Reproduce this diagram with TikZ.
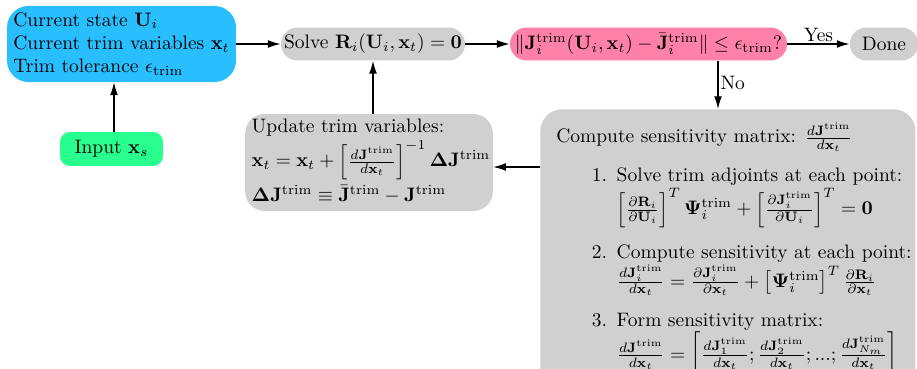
\documentclass[tikz,border=0pt]{standalone}
\usepackage{amsmath,amssymb,bm}
\usetikzlibrary{arrows.meta,calc}
\definecolor{cblue}{RGB}{41,191,255}
\definecolor{cgreen}{RGB}{41,255,143}
\definecolor{cpink}{RGB}{255,128,168}
\definecolor{cgray}{RGB}{208,208,208}
\newcommand{\tr}{\mathrm{trim}}
\tikzset{
  px/.style={x=0.5128pt,y=-0.5128pt},
  boxbase/.style={inner sep=0pt, text=black},
  pill/.style={boxbase, fill=cgray, rounded corners=8.4pt, minimum height=16.9pt},
  conn/.style={-{Latex[length=6.5pt,width=4pt]}, line width=0.6pt},
  lbl/.style={font=\normalsize, inner sep=1pt}
}
\begin{document}
\begin{tikzpicture}[px]
\useasboundingbox (0,0) rectangle (917,368);
\node[boxbase, fill=cblue, rounded corners=11pt, minimum width=117.4pt, minimum height=39pt, align=left] (state) at (121.5,44)
  {Current state $\mathbf{U}_i$\\Current trim variables $\mathbf{x}_t$\\Trim tolerance $\epsilon_{\tr}$};
\node[pill, minimum width=94.4pt] (solve) at (373,44) {Solve $\mathbf{R}_i(\mathbf{U}_i,\mathbf{x}_t)=\mathbf{0}$};
\node[pill, fill=cpink, minimum width=142pt] (check) at (648.5,44)
  {$\|\mathbf{J}_i^{\tr}(\mathbf{U}_i,\mathbf{x}_t)-\bar{\mathbf{J}}_i^{\tr}\|\le\epsilon_{\tr}$?};
\node[pill, minimum width=35pt] (done) at (884,44) {Done};
\node[boxbase, fill=cgreen, rounded corners=5pt, minimum width=52.8pt, minimum height=17.4pt] (input) at (111.5,149) {Input $\mathbf{x}_s$};
\node[boxbase, fill=cgray, rounded corners=10pt, minimum width=127pt, minimum height=49.7pt, align=left] (update) at (369,162.5)
  {\hspace*{2pt}\begin{tabular}{@{}l@{}}Update trim variables:\\[0.5pt]
   $\mathbf{x}_t=\mathbf{x}_t+\left[\frac{d\mathbf{J}^{\tr}}{d\mathbf{x}_t}\right]^{-1}\bm{\Delta}\mathbf{J}^{\tr}$\\[6pt]
   $\bm{\Delta}\mathbf{J}^{\tr}\equiv\bar{\mathbf{J}}^{\tr}-\mathbf{J}^{\tr}$\end{tabular}};
\node[boxbase, fill=cgray, rounded corners=11pt, anchor=north west, minimum width=192.3pt, minimum height=145pt, inner xsep=8pt, inner ysep=0pt] (sens) at (540,109)
  {\makebox[176pt][l]{\begin{minipage}[t]{186pt}
   Compute sensitivity matrix: $\frac{d\mathbf{J}^{\tr}}{d\mathbf{x}_t}$
   \setlength{\leftmargini}{31pt}\setlength{\labelsep}{5pt}
   \begin{enumerate}\setlength{\itemsep}{4pt}\setlength{\topsep}{3.5pt}
   \item Solve trim adjoints at each point:\\
     $\left[\frac{\partial\mathbf{R}_i}{\partial\mathbf{U}_i}\right]^T\bm{\Psi}_i^{\tr}+\left[\frac{\partial\mathbf{J}_i^{\tr}}{\partial\mathbf{U}_i}\right]^T=\mathbf{0}$
   \item Compute sensitivity at each point:\\
     $\frac{d\mathbf{J}_i^{\tr}}{d\mathbf{x}_t}=\frac{\partial\mathbf{J}_i^{\tr}}{\partial\mathbf{x}_t}+\left[\bm{\Psi}_i^{\tr}\right]^T\frac{\partial\mathbf{R}_i}{\partial\mathbf{x}_t}$
   \item Form sensitivity matrix:\\
     $\frac{d\mathbf{J}^{\tr}}{d\mathbf{x}_t}=\left[\frac{d\mathbf{J}_1^{\tr}}{d\mathbf{x}_t};\frac{d\mathbf{J}_2^{\tr}}{d\mathbf{x}_t};...;\frac{d\mathbf{J}_{N_m}^{\tr}}{d\mathbf{x}_t}\right]$
   \end{enumerate}
   \end{minipage}}};
\coordinate (nx) at (718,0);
\coordinate (ny) at (0,167);
\draw[conn] (state) -- (solve);
\draw[conn] (solve) -- (check);
\draw[conn] (check) -- node[lbl, above] {Yes} (done);
\draw[conn] (check.south -| nx) -- node[lbl, right, pos=0.45] {No} (sens.north -| nx);
\draw[conn] (input.north -| 114,0) -- (state.south -| 114,0);
\draw[conn] (update.north -| solve.south) -- (solve.south);
\draw[conn] (sens.west |- ny) -- (update.east |- ny);
\end{tikzpicture}
\end{document}
